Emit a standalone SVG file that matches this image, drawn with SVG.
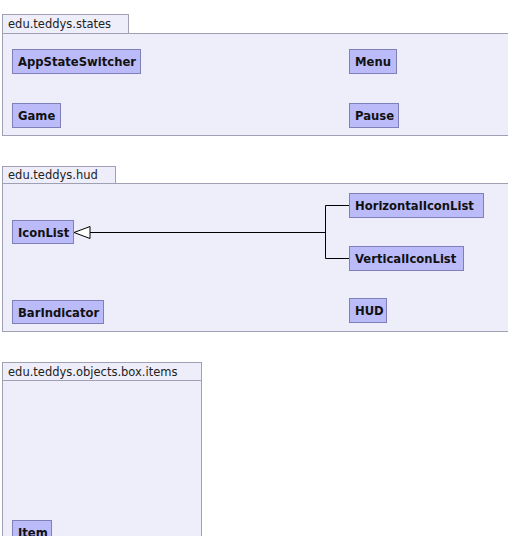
<svg xmlns="http://www.w3.org/2000/svg" width="508" height="536" viewBox="0 0 508 536">
<style>
.pkg{fill:#EEEEFA;stroke:#A0A0B4;stroke-width:1}
.ptxt{font-family:"DejaVu Sans",sans-serif;font-size:11.5px;fill:#222}
.cls{fill:#BBBBFA;stroke:#8080B8;stroke-width:1}
.ctxt{font-family:"DejaVu Sans",sans-serif;font-size:11.6px;font-weight:bold;fill:#111}
.edge{fill:none;stroke:#000;stroke-width:1}
</style>
<rect width="508" height="536" fill="#fff"/>
<g id="pkg-states">
<rect class="pkg" x="2.5" y="33.5" width="520" height="102"/>
<rect class="pkg" x="2.5" y="14.5" width="126" height="19"/>
<text class="ptxt" x="8" y="28">edu.teddys.states</text>
</g>
<g id="pkg-hud">
<rect class="pkg" x="2.5" y="183.5" width="520" height="148"/>
<rect class="pkg" x="2.5" y="166.5" width="113" height="17"/>
<text class="ptxt" x="8" y="179">edu.teddys.hud</text>
</g>
<g id="pkg-items">
<rect class="pkg" x="2.5" y="380.5" width="199" height="170"/>
<rect class="pkg" x="2.5" y="362.5" width="199" height="18"/>
<text class="ptxt" x="8" y="376">edu.teddys.objects.box.items</text>
</g>
<g id="AppStateSwitcher"><rect class="cls" x="12.5" y="49.5" width="128" height="24"/><text class="ctxt" x="18" y="66">AppStateSwitcher</text></g>
<g id="Menu"><rect class="cls" x="349.5" y="49.5" width="47" height="24"/><text class="ctxt" x="355" y="66">Menu</text></g>
<g id="Game"><rect class="cls" x="12.5" y="103.5" width="48" height="24"/><text class="ctxt" x="18" y="120">Game</text></g>
<g id="Pause"><rect class="cls" x="349.5" y="103.5" width="49" height="24"/><text class="ctxt" x="355" y="120">Pause</text></g>
<g id="HorizontalIconList"><rect class="cls" x="349.5" y="193.5" width="134" height="24"/><text class="ctxt" x="355" y="210">HorizontalIconList</text></g>
<g id="IconList"><rect class="cls" x="12.5" y="220.5" width="61" height="23"/><text class="ctxt" x="18" y="237">IconList</text></g>
<g id="VerticalIconList"><rect class="cls" x="349.5" y="246.5" width="114" height="24"/><text class="ctxt" x="355" y="263">VerticalIconList</text></g>
<g id="BarIndicator"><rect class="cls" x="12.5" y="300.5" width="91" height="23"/><text class="ctxt" x="18" y="317">BarIndicator</text></g>
<g id="HUD"><rect class="cls" x="349.5" y="298.5" width="37" height="24"/><text class="ctxt" x="355" y="315">HUD</text></g>
<g id="Item"><rect class="cls" x="12.5" y="520.5" width="39" height="24"/><text class="ctxt" x="18" y="537">Item</text></g>
<g id="connectors">
<path class="edge" d="M349 205.5H325.5V258.5H349M325.5 232.5H90"/>
<polygon points="74,232.5 90,226.5 90,238.5" fill="#fff" stroke="#000" stroke-width="1"/>
</g>
</svg>
